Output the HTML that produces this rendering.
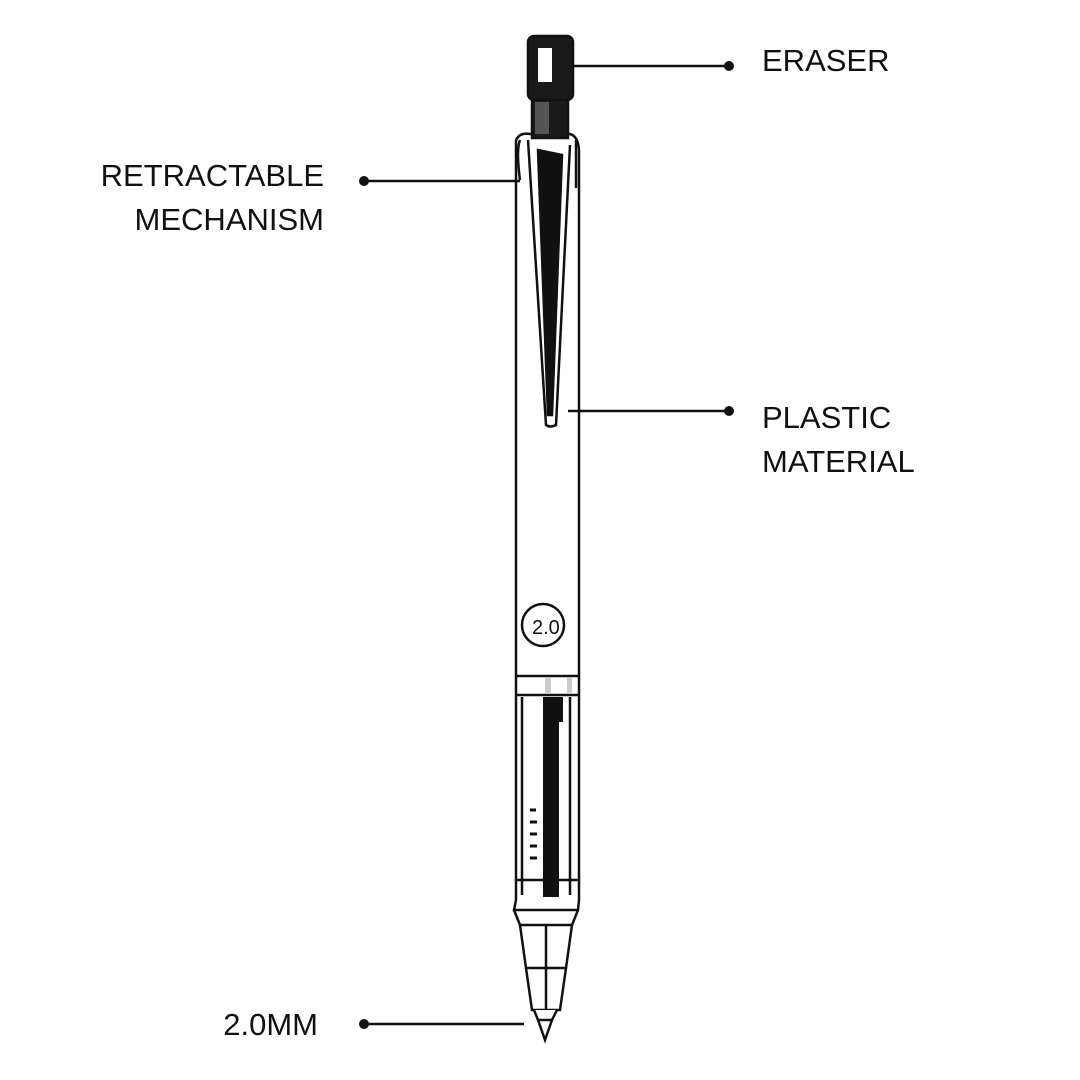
<!DOCTYPE html>
<html><head><style>
body{margin:0;background:#fff;}
svg{display:block}
text{font-family:"Liberation Sans",sans-serif;font-size:31px;fill:#111;}
</style></head><body>
<svg width="1080" height="1080" viewBox="0 0 1080 1080">
<rect width="1080" height="1080" fill="#fff"/>
<g stroke="#111" stroke-width="2.5" fill="none">
<!-- body -->
<path d="M516 140 L516 900 M579 190 L579 900" />
<path d="M516 140 Q520 132 530 134 L570 134 Q578 136 579 150 L579 190"/>
<!-- eraser -->
<rect x="528" y="36" width="45" height="64" rx="6" fill="#1a1a1a"/>
<rect x="538" y="48" width="14" height="34" fill="#fff" stroke="none"/>
<rect x="532" y="100" width="36" height="38" fill="#1a1a1a"/>
<rect x="535" y="102" width="14" height="32" fill="#555" stroke="none"/>
<!-- clip -->
<path d="M528 140 L546 425 Q550 428 556 425 L570 145" fill="#fff"/>
<path d="M538 150 L548 415 L552 415 L562 155 Z" fill="#111"/>
<path d="M520 140 Q516 150 520 180 M576 140 L576 188"/>
<!-- badge -->
<circle cx="543" cy="625" r="21"/>
<!-- band -->
<line x1="516" y1="676" x2="579" y2="676"/>
<line x1="516" y1="695" x2="579" y2="695"/>
<rect x="545" y="678" width="6" height="16" fill="#ccc" stroke="none"/>
<rect x="567" y="678" width="5" height="16" fill="#ccc" stroke="none"/>
<!-- window -->
<line x1="522" y1="697" x2="522" y2="895"/>
<line x1="570" y1="697" x2="570" y2="895"/>
<rect x="543" y="697" width="16" height="200" fill="#111" stroke="none"/>
<rect x="556" y="697" width="7" height="25" fill="#111" stroke="none"/>
<line x1="516" y1="880" x2="579" y2="880"/>
<path d="M530 810 h6 M530 822 h7 M530 834 h7 M530 846 h7 M530 858 h7" stroke-width="3"/>
<!-- lower -->
<path d="M516 900 L514 910 L578 910 L579 900"/>
<path d="M514 910 L520 925 L572 925 L578 910"/>
<path d="M520 925 L526 968 L566 968 L572 925"/>
<line x1="546" y1="925" x2="546" y2="968"/>
<path d="M526 968 L532 1010 L560 1010 L566 968"/>
<line x1="546" y1="968" x2="546" y2="1010"/>
<path d="M534 1010 L538 1020 L545 1040 L552 1020 L557 1010" fill="#fff"/>
<line x1="538" y1="1020" x2="552" y2="1020"/>
<!-- leader lines -->
<line x1="573" y1="66" x2="728" y2="66"/>
<line x1="364" y1="181" x2="520" y2="181"/>
<line x1="568" y1="411" x2="728" y2="411"/>
<line x1="364" y1="1024" x2="524" y2="1024"/>
</g>
<text x="532" y="634" style="font-size:20px">2.0</text>
<g fill="#111">
<circle cx="729" cy="66" r="5"/>
<circle cx="364" cy="181" r="5"/>
<circle cx="729" cy="411" r="5"/>
<circle cx="364" cy="1024" r="5"/>
</g>
<text x="762" y="71">ERASER</text>
<text x="324" y="186" text-anchor="end">RETRACTABLE</text>
<text x="324" y="230" text-anchor="end">MECHANISM</text>
<text x="762" y="428">PLASTIC</text>
<text x="762" y="472">MATERIAL</text>
<text x="318" y="1035" text-anchor="end">2.0MM</text>
</svg>
</body></html>
